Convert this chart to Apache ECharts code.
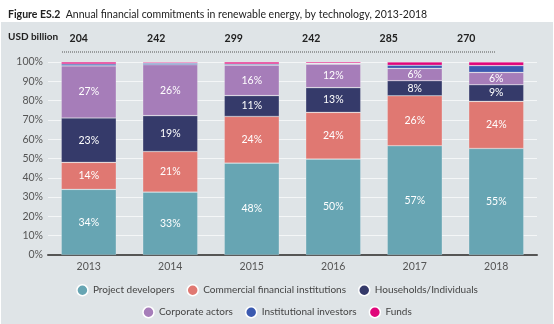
<!DOCTYPE html>
<html><head><meta charset="utf-8">
<script src="https://cdn.jsdelivr.net/npm/echarts@6/dist/echarts.min.js"></script>
<style>html,body{margin:0;padding:0;background:#fff}#c{width:554px;height:324px}</style>
</head><body><div id="c"></div>
<script>
var years = ['2013','2014','2015','2016','2017','2018'];
var totals = ['204','242','299','242','285','270'];
var projectDevelopers = [34, 32.6, 47.6, 49.7, 56.6, 55.2];
var commercialFinancial = [14, 21, 24.2, 24.2, 25.9, 24.4];
var households = [23, 18.6, 10.8, 12.8, 7.8, 8.6];
var corporateActors = [27, 26.4, 15.8, 12.2, 6.4, 6.4];
var institutionalInvestors = [1, 0.8, 0.6, 0.4, 1.6, 3.5];
var funds = [1, 0.6, 1.0, 0.7, 1.7, 1.9];
var yTicks = [0,10,20,30,40,50,60,70,80,90,100];

var FONT = 'Lato';
var names = ['Project developers','Commercial financial institutions','Households/Individuals','Corporate actors','Institutional investors','Funds'];
var colors = ['#67a5b3','#e07872','#353a6a','#a67db9','#3b5ab0','#e0067a'];
var datas = [projectDevelopers, commercialFinancial, households, corporateActors, institutionalInvestors, funds];

var series = names.map(function(n,i){
  return {
    name: n, type: 'bar', stack: 'total', xAxisIndex: 0, yAxisIndex: 0,
    barWidth: 55, data: datas[i],
    itemStyle: {color: colors[i], borderColor: 'rgba(255,255,255,0.35)', borderWidth: 0.6},
    label: {show: true, color: '#fff', fontSize: 10.5, fontFamily: FONT,
      formatter: function(p){ return p.value >= 5 ? Math.round(p.value) + '%' : ''; }},
    emphasis: {disabled: true}
  };
});
series.push({type:'bar', xAxisIndex:1, yAxisIndex:1, data: totals.map(function(){return 0;}), silent:true});

var chart = echarts.init(document.getElementById('c'), null, {renderer:'canvas'});
chart.setOption({
  animation: false,
  backgroundColor: '#fff',
  title: {
    left: 3, top: 4,
    text: '{b|Figure ES.2}  Annual financial commitments in renewable energy, by technology, 2013-2018',
    textStyle: {fontSize: 10.5, fontWeight: 'normal', color: '#222', fontFamily: FONT,
      rich: {b: {fontSize: 10.5, fontWeight: 'bold', color: '#222', fontFamily: FONT}}}
  },
  graphic: [
    {type:'rect', left: 1, top: 22, shape:{width: 552, height: 302}, style:{fill:'#dfe4e7'}, z: -10},
    {type:'text', left: 8, top: 32, style:{text:'USD billion', font:'bold 10px ' + FONT, fill:'#222'}},
    {type:'line', shape:{x1:62, y1:52, x2:495, y2:52}, style:{stroke:'#555', lineWidth:1, lineDash:[1,1]}}
  ],
  legend: [
    {data: names.slice(0,3), left: 'center', top: 279, icon: 'circle', itemWidth: 11, itemHeight: 11, itemGap: 12,
     itemStyle: {borderColor:'#fff', borderWidth: 1.5},
     textStyle: {fontSize: 10, color: '#444', fontFamily: FONT}},
    {data: names.slice(3), left: 'center', top: 301, icon: 'circle', itemWidth: 11, itemHeight: 11, itemGap: 12,
     itemStyle: {borderColor:'#fff', borderWidth: 1.5},
     textStyle: {fontSize: 10, color: '#444', fontFamily: FONT}}
  ],
  grid: [
    {left: 48, right: 17, top: 62, bottom: 69},
    {left: 40, right: 49, top: 32, height: 1}
  ],
  xAxis: [
    {type:'category', gridIndex:0, data: years,
     axisLine: {lineStyle:{color:'#555', width: 2}}, axisTick:{show:false},
     axisLabel: {color:'#555', fontSize: 10.5, fontFamily: FONT, margin: 6}},
    {type:'category', gridIndex:1, data: totals,
     axisLine:{show:false}, axisTick:{show:false}, splitLine:{show:false},
     axisLabel: {color:'#222', fontSize: 10.5, fontWeight:'bold', fontFamily: FONT, margin: 0}}
  ],
  yAxis: [
    {type:'value', gridIndex:0, min:0, max:100, interval:10,
     axisLine:{show:false}, axisTick:{show:false},
     splitLine:{lineStyle:{color:'#f4f6f7', width: 1}},
     axisLabel:{color:'#555', fontSize: 10.5, fontFamily: FONT, margin: 5, formatter: function(v){ return yTicks.indexOf(v) >= 0 ? v + '%' : ''; }}},
    {type:'value', gridIndex:1, show:false}
  ],
  series: series
});
</script></body></html>
